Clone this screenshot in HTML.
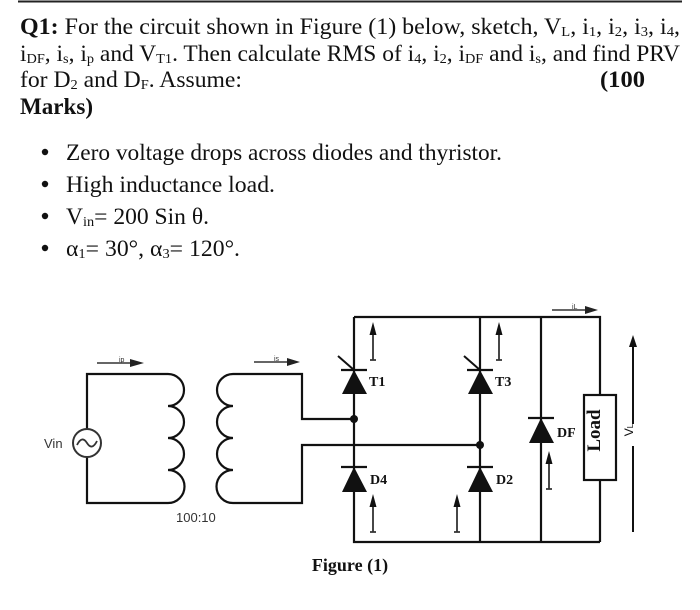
<!DOCTYPE html>
<html><head><meta charset="utf-8"><style>
html,body{margin:0;padding:0;background:#fff;}
svg{display:block;}
.t{font-family:"Liberation Serif",serif;font-size:23px;fill:#111;}
.b{font-weight:bold;}
.s{font-family:"Liberation Sans",sans-serif;font-size:13px;fill:#333;}
.lb{font-family:"Liberation Serif",serif;font-weight:bold;font-size:14px;fill:#111;}
.sub{font-size:14px;}
.w{stroke:#111;stroke-width:2.2;fill:none;}
</style></head><body>
<svg width="700" height="610" viewBox="0 0 700 610" xmlns="http://www.w3.org/2000/svg">
<line x1="18" y1="1.5" x2="682" y2="1.5" stroke="#222" stroke-width="2"/>
<text class="t" x="20" y="34" textLength="660" lengthAdjust="spacingAndGlyphs"><tspan class="b">Q1:</tspan> For the circuit shown in Figure (1) below, sketch, V<tspan class="sub" dy="2">L</tspan><tspan dy="-2">, i</tspan><tspan class="sub" dy="2">1</tspan><tspan dy="-2">, i</tspan><tspan class="sub" dy="2">2</tspan><tspan dy="-2">, i</tspan><tspan class="sub" dy="2">3</tspan><tspan dy="-2">, i</tspan><tspan class="sub" dy="2">4</tspan><tspan dy="-2">,</tspan></text>
<text class="t" x="20" y="61" textLength="660" lengthAdjust="spacingAndGlyphs">i<tspan class="sub" dy="2">DF</tspan><tspan dy="-2">, i</tspan><tspan class="sub" dy="2">s</tspan><tspan dy="-2">, i</tspan><tspan class="sub" dy="2">p</tspan><tspan dy="-2"> and V</tspan><tspan class="sub" dy="2">T1</tspan><tspan dy="-2">. Then calculate RMS of i</tspan><tspan class="sub" dy="2">4</tspan><tspan dy="-2">, i</tspan><tspan class="sub" dy="2">2</tspan><tspan dy="-2">, i</tspan><tspan class="sub" dy="2">DF</tspan><tspan dy="-2"> and i</tspan><tspan class="sub" dy="2">s</tspan><tspan dy="-2">, and find PRV</tspan></text>
<text class="t" x="20" y="87" textLength="222" lengthAdjust="spacingAndGlyphs">for D<tspan class="sub" dy="2">2</tspan><tspan dy="-2"> and D</tspan><tspan class="sub" dy="2">F</tspan><tspan dy="-2">. Assume:</tspan></text>
<text class="t b" x="600" y="87" textLength="45" lengthAdjust="spacingAndGlyphs">(100</text>
<text class="t b" x="20" y="114" textLength="73" lengthAdjust="spacingAndGlyphs">Marks)</text>
<circle cx="45" cy="152" r="3.2" fill="#111"/>
<circle cx="45" cy="184" r="3.2" fill="#111"/>
<circle cx="45" cy="216" r="3.2" fill="#111"/>
<circle cx="45" cy="248" r="3.2" fill="#111"/>
<text class="t" x="66" y="160" textLength="436" lengthAdjust="spacingAndGlyphs">Zero voltage drops across diodes and thyristor.</text>
<text class="t" x="66" y="192" textLength="209" lengthAdjust="spacingAndGlyphs">High inductance load.</text>
<text class="t" x="66" y="224" textLength="143" lengthAdjust="spacingAndGlyphs">V<tspan class="sub" dy="2">in</tspan><tspan dy="-2">= 200 Sin θ.</tspan></text>
<text class="t" x="66" y="256" textLength="174" lengthAdjust="spacingAndGlyphs">α<tspan class="sub" dy="2">1</tspan><tspan dy="-2">= 30°, α</tspan><tspan class="sub" dy="2">3</tspan><tspan dy="-2">= 120°.</tspan></text>

<!-- primary -->
<path class="w" d="M87 429 V374 H168 M87 457 V503 H168"/>
<path class="w" d="M168 374 a16 16 0 0 1 0 32 a16 16 0 0 1 0 32 a16 16 0 0 1 0 32 a16 16 0 0 1 0 33"/>
<circle cx="87" cy="443" r="14" fill="#fff" stroke="#333" stroke-width="2"/>
<path d="M77 445 q5 -10 10 -2 t10 -2" fill="none" stroke="#333" stroke-width="1.8"/>
<text class="s" x="44" y="448">Vin</text>
<!-- secondary -->
<path class="w" d="M233 374 a16 16 0 0 0 0 32 a16 16 0 0 0 0 32 a16 16 0 0 0 0 32 a16 16 0 0 0 0 33"/>
<path class="w" d="M233 374 H302 V419 H354 M233 503 H302 V445 H480"/>
<text class="s" x="176" y="522">100:10</text>
<!-- ip, is arrows -->
<path d="M97 363 H130" stroke="#333" stroke-width="1.5"/><path d="M130 359 L144 363 L130 367Z" fill="#222"/>
<text x="119" y="362" font-size="7" font-family="Liberation Sans" fill="#333">ip</text>
<path d="M254 362 H287" stroke="#333" stroke-width="1.5"/><path d="M287 358 L300 362 L287 366Z" fill="#222"/>
<text x="274" y="361" font-size="7" font-family="Liberation Sans" fill="#333">is</text>
<!-- bridge -->
<path class="w" d="M354 317 V542 H600 M480 317 V542 M354 317 H600 V395 M600 480 V542 M541 317 V542"/>
<circle cx="354" cy="419" r="4" fill="#111"/>
<circle cx="480" cy="445" r="4" fill="#111"/>
<path d="M342 394 L354 370 L367 394Z" fill="#111"/><line x1="341" y1="370" x2="367" y2="370" stroke="#111" stroke-width="2.2"/>
<line x1="338" y1="356" x2="354" y2="370" stroke="#111" stroke-width="2"/>
<text class="lb" x="369" y="386">T1</text>
<path d="M468 394 L480 370 L493 394Z" fill="#111"/><line x1="467" y1="370" x2="493" y2="370" stroke="#111" stroke-width="2.2"/>
<line x1="464" y1="356" x2="480" y2="370" stroke="#111" stroke-width="2"/>
<text class="lb" x="495" y="386">T3</text>
<path d="M342 492 L354 467 L367 492Z" fill="#111"/><line x1="341" y1="467" x2="367" y2="467" stroke="#111" stroke-width="2.2"/>
<text class="lb" x="370" y="484">D4</text>
<path d="M468 492 L480 467 L493 492Z" fill="#111"/><line x1="467" y1="467" x2="493" y2="467" stroke="#111" stroke-width="2.2"/>
<text class="lb" x="496" y="484">D2</text>
<path d="M529 443 L541 418 L554 443Z" fill="#111"/><line x1="528" y1="418" x2="554" y2="418" stroke="#111" stroke-width="2.2"/>
<text class="lb" x="557" y="437">DF</text>
<rect x="584" y="395" width="32" height="85" fill="#fff" stroke="#111" stroke-width="2.2"/>
<text x="607" y="437.5" text-anchor="middle" transform="rotate(-90 600 437.5)" font-family="Liberation Serif" font-weight="bold" font-size="19" fill="#111">Load</text>
<path d="M633 345 V424 M633 446 V532" stroke="#111" stroke-width="2"/><path d="M629 347 L633 335 L637 347Z" fill="#111"/>
<text x="638" y="435" text-anchor="middle" transform="rotate(-90 633 435)" font-family="Liberation Sans" font-size="12" fill="#111">V<tspan font-size="8">L</tspan></text>
<path d="M552 310 H585" stroke="#333" stroke-width="1.5"/><path d="M585 306 L598 310 L585 314Z" fill="#222"/>
<text x="572" y="309" font-size="7" font-family="Liberation Sans" fill="#333">iL</text>
<g stroke="#333" stroke-width="1.8">
<path d="M373 333 V360 M370 360 H376"/><path d="M499 333 V360 M496 360 H502"/>
<path d="M373 505 V532 M370 532 H376"/><path d="M457 505 V532 M454 532 H460"/>
<path d="M549 462 V489 M546 489 H552"/>
</g>
<g fill="#111">
<path d="M369.5 335 L373 322 L376.5 335Z"/><path d="M495.5 335 L499 322 L502.5 335Z"/>
<path d="M369.5 507 L373 494 L376.5 507Z"/><path d="M453.5 507 L457 494 L460.5 507Z"/>
<path d="M545.5 464 L549 451 L552.5 464Z"/>
</g>
<text x="350" y="571" text-anchor="middle" font-family="Liberation Serif" font-weight="bold" font-size="18" fill="#111">Figure (1)</text>
</svg>
</body></html>
